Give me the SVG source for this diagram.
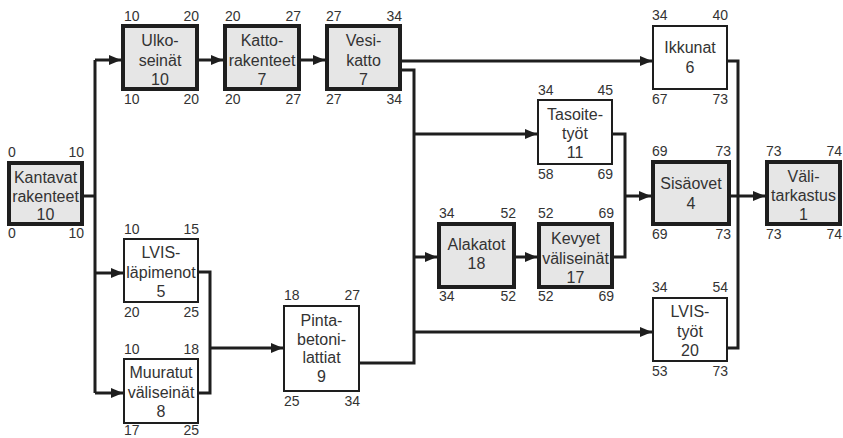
<svg xmlns="http://www.w3.org/2000/svg" width="843" height="438" viewBox="0 0 843 438">
<defs>
<marker id="ah" viewBox="0 0 12 10" refX="12" refY="5" markerWidth="12" markerHeight="10" markerUnits="userSpaceOnUse" orient="auto">
<path d="M0,0 L12,5 L0,10 z" fill="#1e1e1e"/>
</marker>
<style>
.crit{fill:#e6e6e6;stroke:#1e1e1e;stroke-width:4}
.norm{fill:#ffffff;stroke:#1e1e1e;stroke-width:2}
.lbl{font-family:"Liberation Sans",Arial,sans-serif;font-size:16px;fill:#333333;text-anchor:middle}
.num{font-family:"Liberation Sans",Arial,sans-serif;font-size:14px;fill:#333333}
.r{text-anchor:end}
.c{fill:none;stroke:#1e1e1e;stroke-width:3}
.a{marker-end:url(#ah)}
</style>
</defs>
<rect width="843" height="438" fill="#ffffff"/>
<g id="connectors">
<path class="c" d="M84,196 H95"/>
<path class="c" d="M95,60 V393"/>
<path class="c a" d="M95,60 H121"/>
<path class="c a" d="M95,273 H123"/>
<path class="c a" d="M95,393 H123"/>
<path class="c a" d="M199,60 H223"/>
<path class="c a" d="M301,60 H325"/>
<path class="c a" d="M402,61 H652"/>
<path class="c" d="M402,70 H414 V363 H360"/>
<path class="c a" d="M414,134 H537"/>
<path class="c a" d="M414,257 H437"/>
<path class="c a" d="M414,332 H652"/>
<path class="c a" d="M516,257 H537"/>
<path class="c" d="M613,134 H625 V257 H614"/>
<path class="c a" d="M625,196 H651"/>
<path class="c" d="M728,61 H738 V348 H728"/>
<path class="c a" d="M731,196 H765"/>
<path class="c" d="M199,272 H210 V393 H199"/>
<path class="c a" d="M210,348 H283"/>
</g>
<g id="kantavat">
<rect class="crit" x="9" y="163" width="73" height="61"/>
<text class="lbl" x="45.5" y="183">Kantavat</text>
<text class="lbl" x="45.5" y="202">rakenteet</text>
<text class="lbl" x="45.5" y="220">10</text>
<text class="num" x="8" y="157">0</text><text class="num r" x="84" y="157">10</text>
<text class="num" x="8" y="238">0</text><text class="num r" x="84" y="238">10</text>
</g>
<g id="ulkoseinat">
<rect class="crit" x="123" y="26" width="74" height="63"/>
<text class="lbl" x="160" y="46">Ulko-</text>
<text class="lbl" x="160" y="66">seinät</text>
<text class="lbl" x="160" y="85">10</text>
<text class="num" x="124" y="21">10</text><text class="num r" x="199" y="21">20</text>
<text class="num" x="124" y="104">10</text><text class="num r" x="199" y="104">20</text>
</g>
<g id="kattorakenteet">
<rect class="crit" x="225" y="26" width="74" height="63"/>
<text class="lbl" x="262" y="46">Katto-</text>
<text class="lbl" x="262" y="66">rakenteet</text>
<text class="lbl" x="262" y="85">7</text>
<text class="num" x="225" y="21">20</text><text class="num r" x="301" y="21">27</text>
<text class="num" x="225" y="104">20</text><text class="num r" x="301" y="104">27</text>
</g>
<g id="vesikatto">
<rect class="crit" x="327" y="26" width="73" height="63"/>
<text class="lbl" x="363.5" y="46">Vesi-</text>
<text class="lbl" x="363.5" y="66">katto</text>
<text class="lbl" x="363.5" y="85">7</text>
<text class="num" x="326" y="21">27</text><text class="num r" x="402" y="21">34</text>
<text class="num" x="326" y="104">27</text><text class="num r" x="402" y="104">34</text>
</g>
<g id="lvis-lapimenot">
<rect class="norm" x="124" y="239" width="74" height="63"/>
<text class="lbl" x="161" y="258">LVIS-</text>
<text class="lbl" x="161" y="278">läpimenot</text>
<text class="lbl" x="161" y="297">5</text>
<text class="num" x="124" y="234">10</text><text class="num r" x="199" y="234">15</text>
<text class="num" x="124" y="317">20</text><text class="num r" x="199" y="317">25</text>
</g>
<g id="muuratut">
<rect class="norm" x="124" y="359" width="74" height="64"/>
<text class="lbl" x="161" y="378">Muuratut</text>
<text class="lbl" x="161" y="398">väliseinät</text>
<text class="lbl" x="161" y="417">8</text>
<text class="num" x="124" y="354">10</text><text class="num r" x="199" y="354">18</text>
<text class="num" x="124" y="435">17</text><text class="num r" x="199" y="435">25</text>
</g>
<g id="pintabetonilattiat">
<rect class="norm" x="284" y="306" width="75" height="85"/>
<text class="lbl" x="321.5" y="326">Pinta-</text>
<text class="lbl" x="321.5" y="345">betoni-</text>
<text class="lbl" x="321.5" y="363">lattiat</text>
<text class="lbl" x="321.5" y="382">9</text>
<text class="num" x="284" y="300">18</text><text class="num r" x="360" y="300">27</text>
<text class="num" x="284" y="406">25</text><text class="num r" x="360" y="406">34</text>
</g>
<g id="tasoitetyot">
<rect class="norm" x="538" y="100" width="74" height="64"/>
<text class="lbl" x="575" y="120">Tasoite-</text>
<text class="lbl" x="575" y="139">työt</text>
<text class="lbl" x="575" y="158">11</text>
<text class="num" x="538" y="95">34</text><text class="num r" x="613" y="95">45</text>
<text class="num" x="538" y="179">58</text><text class="num r" x="613" y="179">69</text>
</g>
<g id="alakatot">
<rect class="crit" x="439" y="224" width="75" height="63"/>
<text class="lbl" x="476.5" y="250">Alakatot</text>
<text class="lbl" x="476.5" y="269">18</text>
<text class="num" x="439" y="218">34</text><text class="num r" x="516" y="218">52</text>
<text class="num" x="439" y="301">34</text><text class="num r" x="516" y="301">52</text>
</g>
<g id="kevyet-valiseinat">
<rect class="crit" x="539" y="224" width="73" height="63"/>
<text class="lbl" x="575.5" y="244">Kevyet</text>
<text class="lbl" x="575.5" y="264">väliseinät</text>
<text class="lbl" x="575.5" y="283">17</text>
<text class="num" x="538" y="218">52</text><text class="num r" x="614" y="218">69</text>
<text class="num" x="538" y="301">52</text><text class="num r" x="614" y="301">69</text>
</g>
<g id="ikkunat">
<rect class="norm" x="653" y="26" width="74" height="63"/>
<text class="lbl" x="690" y="53">Ikkunat</text>
<text class="lbl" x="690" y="73">6</text>
<text class="num" x="652" y="20">34</text><text class="num r" x="728" y="20">40</text>
<text class="num" x="652" y="104">67</text><text class="num r" x="728" y="104">73</text>
</g>
<g id="sisaovet">
<rect class="crit" x="653" y="162" width="76" height="62"/>
<text class="lbl" x="691" y="189">Sisäovet</text>
<text class="lbl" x="691" y="209">4</text>
<text class="num" x="652" y="156">69</text><text class="num r" x="731" y="156">73</text>
<text class="num" x="652" y="239">69</text><text class="num r" x="731" y="239">73</text>
</g>
<g id="lvis-tyot">
<rect class="norm" x="653" y="298" width="74" height="63"/>
<text class="lbl" x="690" y="317">LVIS-</text>
<text class="lbl" x="690" y="337">työt</text>
<text class="lbl" x="690" y="356">20</text>
<text class="num" x="652" y="292">34</text><text class="num r" x="728" y="292">54</text>
<text class="num" x="652" y="376">53</text><text class="num r" x="728" y="376">73</text>
</g>
<g id="valitarkastus">
<rect class="crit" x="767" y="162" width="73" height="62"/>
<text class="lbl" x="803.5" y="182">Väli-</text>
<text class="lbl" x="803.5" y="201">tarkastus</text>
<text class="lbl" x="803.5" y="220">1</text>
<text class="num" x="766" y="156">73</text><text class="num r" x="842" y="156">74</text>
<text class="num" x="766" y="239">73</text><text class="num r" x="842" y="239">74</text>
</g>
</svg>
